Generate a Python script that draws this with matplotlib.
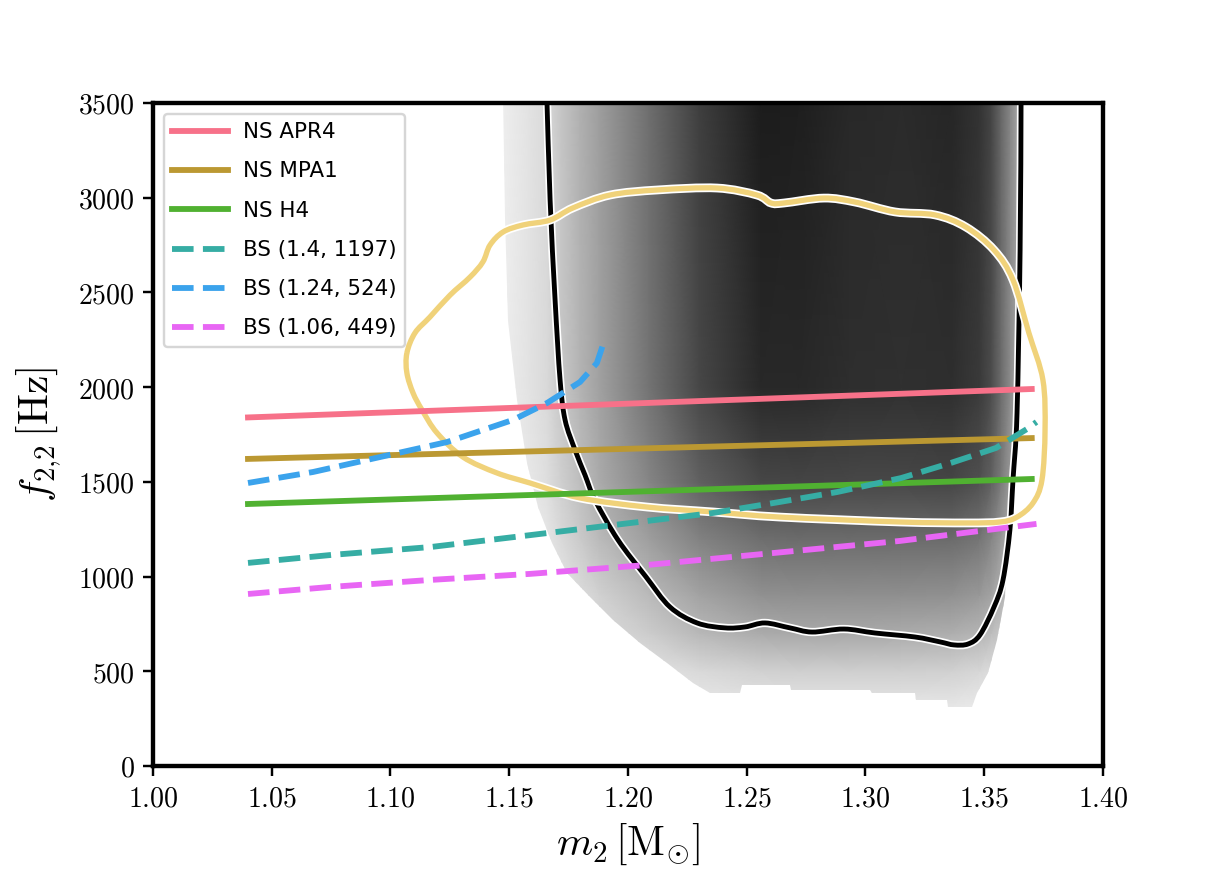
import numpy as np
import matplotlib
matplotlib.use("Agg")
import matplotlib.pyplot as plt
import matplotlib.patheffects as pe
from matplotlib.patches import Polygon, PathPatch
from matplotlib.path import Path
from matplotlib.ticker import FuncFormatter, MultipleLocator

plt.rcParams["mathtext.fontset"] = "cm"

# posterior density (darkness 0 = white, 1 = black), rows follow dens_freq
dens_mass = [1.145, 1.158, 1.166, 1.172, 1.180, 1.188, 1.209, 1.230, 1.256,
             1.272, 1.293, 1.315, 1.336, 1.348, 1.353, 1.357, 1.361, 1.366]
dens_freq = [300, 500, 700, 900, 1200, 1500, 2000, 3500]
dens_level = [
    [.02, .02, .03, .03, .04, .05, .06, .08, .09, .09, .09, .09, .09, .08, .07, .06, .05, .04],
    [.02, .03, .04, .05, .06, .08, .11, .15, .18, .19, .19, .19, .18, .16, .14, .12, .10, .08],
    [.02, .04, .05, .07, .10, .14, .20, .28, .33, .34, .34, .33, .32, .29, .26, .22, .17, .12],
    [.03, .05, .07, .10, .14, .18, .27, .36, .43, .44, .44, .44, .43, .40, .36, .31, .24, .17],
    [.04, .07, .10, .15, .21, .27, .38, .49, .57, .58, .58, .58, .58, .54, .48, .40, .31, .22],
    [.05, .09, .13, .19, .26, .33, .48, .62, .72, .73, .72, .72, .73, .68, .62, .52, .40, .27],
    [.06, .11, .15, .22, .30, .37, .55, .72, .84, .84, .82, .81, .82, .77, .70, .58, .45, .30],
    [.06, .11, .15, .23, .31, .38, .57, .75, .89, .88, .84, .83, .85, .80, .73, .60, .47, .30],
]

# outline of the region where the density is drawn
support_mass = [1.1474, 1.1482, 1.1495, 1.1533, 1.1575, 1.1621, 1.1680, 1.1743, 1.1840,
                1.1937, 1.2051, 1.2164, 1.2274, 1.2345, 1.2472, 1.2481, 1.2682, 1.2686,
                1.3019, 1.3027, 1.3208, 1.3212, 1.3343, 1.3347, 1.3448, 1.3470, 1.3516,
                1.3554, 1.3587, 1.3596, 1.3625, 1.3642, 1.3642]
support_freq = [3550, 2900, 2350, 1932, 1600, 1367, 1177, 1019, 892,
                771, 649, 544, 438, 385, 385, 428, 428, 400,
                400, 385, 385, 348, 348, 311, 311, 385, 491,
                665, 892, 1156, 1900, 2600, 3550]

# black credible contour
cred_mass = [1.1655, 1.1659, 1.1672, 1.1693, 1.1714, 1.1735, 1.1777, 1.1819, 1.1861,
             1.1958, 1.2076, 1.2177, 1.2291, 1.2408, 1.2493, 1.2577, 1.2682, 1.2775,
             1.2909, 1.3040, 1.3208, 1.3314, 1.3373, 1.3432, 1.3482, 1.3541, 1.3579,
             1.3608, 1.3621, 1.3638, 1.3651, 1.3655, 1.3656]
cred_freq = [3600, 3500, 2988, 2460, 2038, 1827, 1668, 1536, 1404,
             1193, 998, 839, 755, 729, 734, 755, 729, 707,
             723, 702, 681, 655, 639, 644, 692, 839, 982,
             1246, 1510, 1863, 2724, 3500, 3600]

# yellow contour (closed)
yc_mass = [1.1069, 1.1103, 1.1166, 1.1251, 1.1335, 1.1389, 1.1419, 1.1474, 1.1558,
           1.1672, 1.1768, 1.1924, 1.2126, 1.2375, 1.2543, 1.2602, 1.2657, 1.2825,
           1.2956, 1.3124, 1.3293, 1.3423, 1.3541, 1.3621, 1.3688, 1.3747, 1.3756,
           1.3743, 1.3705, 1.3638, 1.3566, 1.3427, 1.3145, 1.2640, 1.2358, 1.2080,
           1.1798, 1.1587, 1.1448, 1.1305, 1.1196, 1.1133, 1.1095, 1.1069]
yc_freq = [2180, 2286, 2370, 2486, 2581, 2661, 2750, 2819, 2856,
           2882, 2946, 3014, 3041, 3051, 3014, 2972, 2972, 2998,
           2977, 2925, 2909, 2845, 2724, 2566, 2286, 2038, 1774,
           1510, 1388, 1314, 1288, 1283, 1288, 1314, 1341, 1367,
           1415, 1494, 1547, 1631, 1758, 1879, 1969, 2075]

# neutron star models
ns_mass = [1.04, 1.37]
apr4_freq = [1840, 1990]
mpa1_freq = [1621, 1731]
h4_freq = [1383, 1515]

# boson star models
bs1_mass = [1.040, 1.075, 1.117, 1.159, 1.194, 1.236, 1.264, 1.288, 1.315, 1.336, 1.355, 1.368, 1.372]
bs1_freq = [1072, 1114, 1156, 1219, 1272, 1336, 1394, 1446, 1520, 1600, 1679, 1779, 1816]
bs2_mass = [1.040, 1.0674, 1.0956, 1.1238, 1.1516, 1.1659, 1.1798, 1.1869, 1.1903]
bs2_freq = [1494, 1552, 1631, 1710, 1827, 1916, 2027, 2127, 2255]
bs3_mass = [1.040, 1.0745, 1.1166, 1.1587, 1.208, 1.261, 1.3145, 1.372]
bs3_freq = [908, 945, 982, 1014, 1061, 1124, 1188, 1278]

colors = ["#f77189", "#bb9832", "#50b131", "#36ada4", "#3ba3ec", "#e866f4"]


def smooth_path(xs, ys, closed=False):
    # Catmull-Rom through the points, as cubic Bezier segments
    pts = np.column_stack([xs, ys]).astype(float)
    n = len(pts)
    if closed:
        idx = lambda i: pts[i % n]
        segs = n
    else:
        idx = lambda i: pts[min(max(i, 0), n - 1)]
        segs = n - 1
    verts = [pts[0]]
    codes = [Path.MOVETO]
    for i in range(segs):
        p0, p1, p2, p3 = idx(i - 1), idx(i), idx(i + 1), idx(i + 2)
        verts += [p1 + (p2 - p0) / 6, p2 - (p3 - p1) / 6, p2]
        codes += [Path.CURVE4] * 3
    return Path(verts, codes)


fig = plt.figure(figsize=(7, 5), dpi=175)
ax = fig.add_axes([0.1249, 0.1246, 0.7755, 0.7577])

mesh = ax.pcolormesh(dens_mass, dens_freq, np.array(dens_level), shading="gouraud",
                     cmap="gray_r", vmin=0, vmax=1, zorder=1)
clip = Polygon(np.column_stack([support_mass, support_freq]), closed=True,
               transform=ax.transData)
mesh.set_clip_path(clip)

ax.add_patch(PathPatch(smooth_path(cred_mass, cred_freq), fill=False, edgecolor="black",
                       lw=2.0, zorder=2,
                       path_effects=[pe.Stroke(linewidth=3.4, foreground="white"), pe.Normal()]))
ax.add_patch(PathPatch(smooth_path(yc_mass, yc_freq, closed=True), fill=False,
                       edgecolor="#f0d27a", lw=2.2, zorder=3,
                       path_effects=[pe.Stroke(linewidth=3.6, foreground="white"), pe.Normal()]))

lw = 2.4
ax.plot(ns_mass, apr4_freq, color=colors[0], lw=lw, label="NS APR4", zorder=4)
ax.plot(ns_mass, mpa1_freq, color=colors[1], lw=lw, label="NS MPA1", zorder=4)
ax.plot(ns_mass, h4_freq, color=colors[2], lw=lw, label="NS H4", zorder=4)
ax.plot(bs1_mass, bs1_freq, color=colors[3], lw=lw, ls="--", label="BS (1.4, 1197)", zorder=4)
ax.plot(bs2_mass, bs2_freq, color=colors[4], lw=lw, ls="--", label="BS (1.24, 524)", zorder=4)
ax.plot(bs3_mass, bs3_freq, color=colors[5], lw=lw, ls="--", label="BS (1.06, 449)", zorder=4)

ax.set_xlim(1.0, 1.4)
ax.set_ylim(0, 3500)
ax.xaxis.set_major_locator(MultipleLocator(0.05))
ax.yaxis.set_major_locator(MultipleLocator(500))
ax.xaxis.set_major_formatter(FuncFormatter(lambda v, p: "$%.2f$" % v))
ax.yaxis.set_major_formatter(FuncFormatter(lambda v, p: "$%d$" % round(v)))
ax.tick_params(labelsize=11.5, width=1.0, length=4)
for s in ax.spines.values():
    s.set_linewidth(1.8)

ax.set_xlabel(r"$m_2\,[\mathrm{M}_{\odot}]$", fontsize=17, labelpad=4)
ax.set_ylabel(r"$f_{2{,}2}\,[\mathrm{Hz}]$", fontsize=17, labelpad=6)

ax.legend(loc="upper left", fontsize=8.8, handlelength=2.6, labelspacing=0.9,
          handletextpad=0.7)

fig.savefig("out.png", dpi=175)
